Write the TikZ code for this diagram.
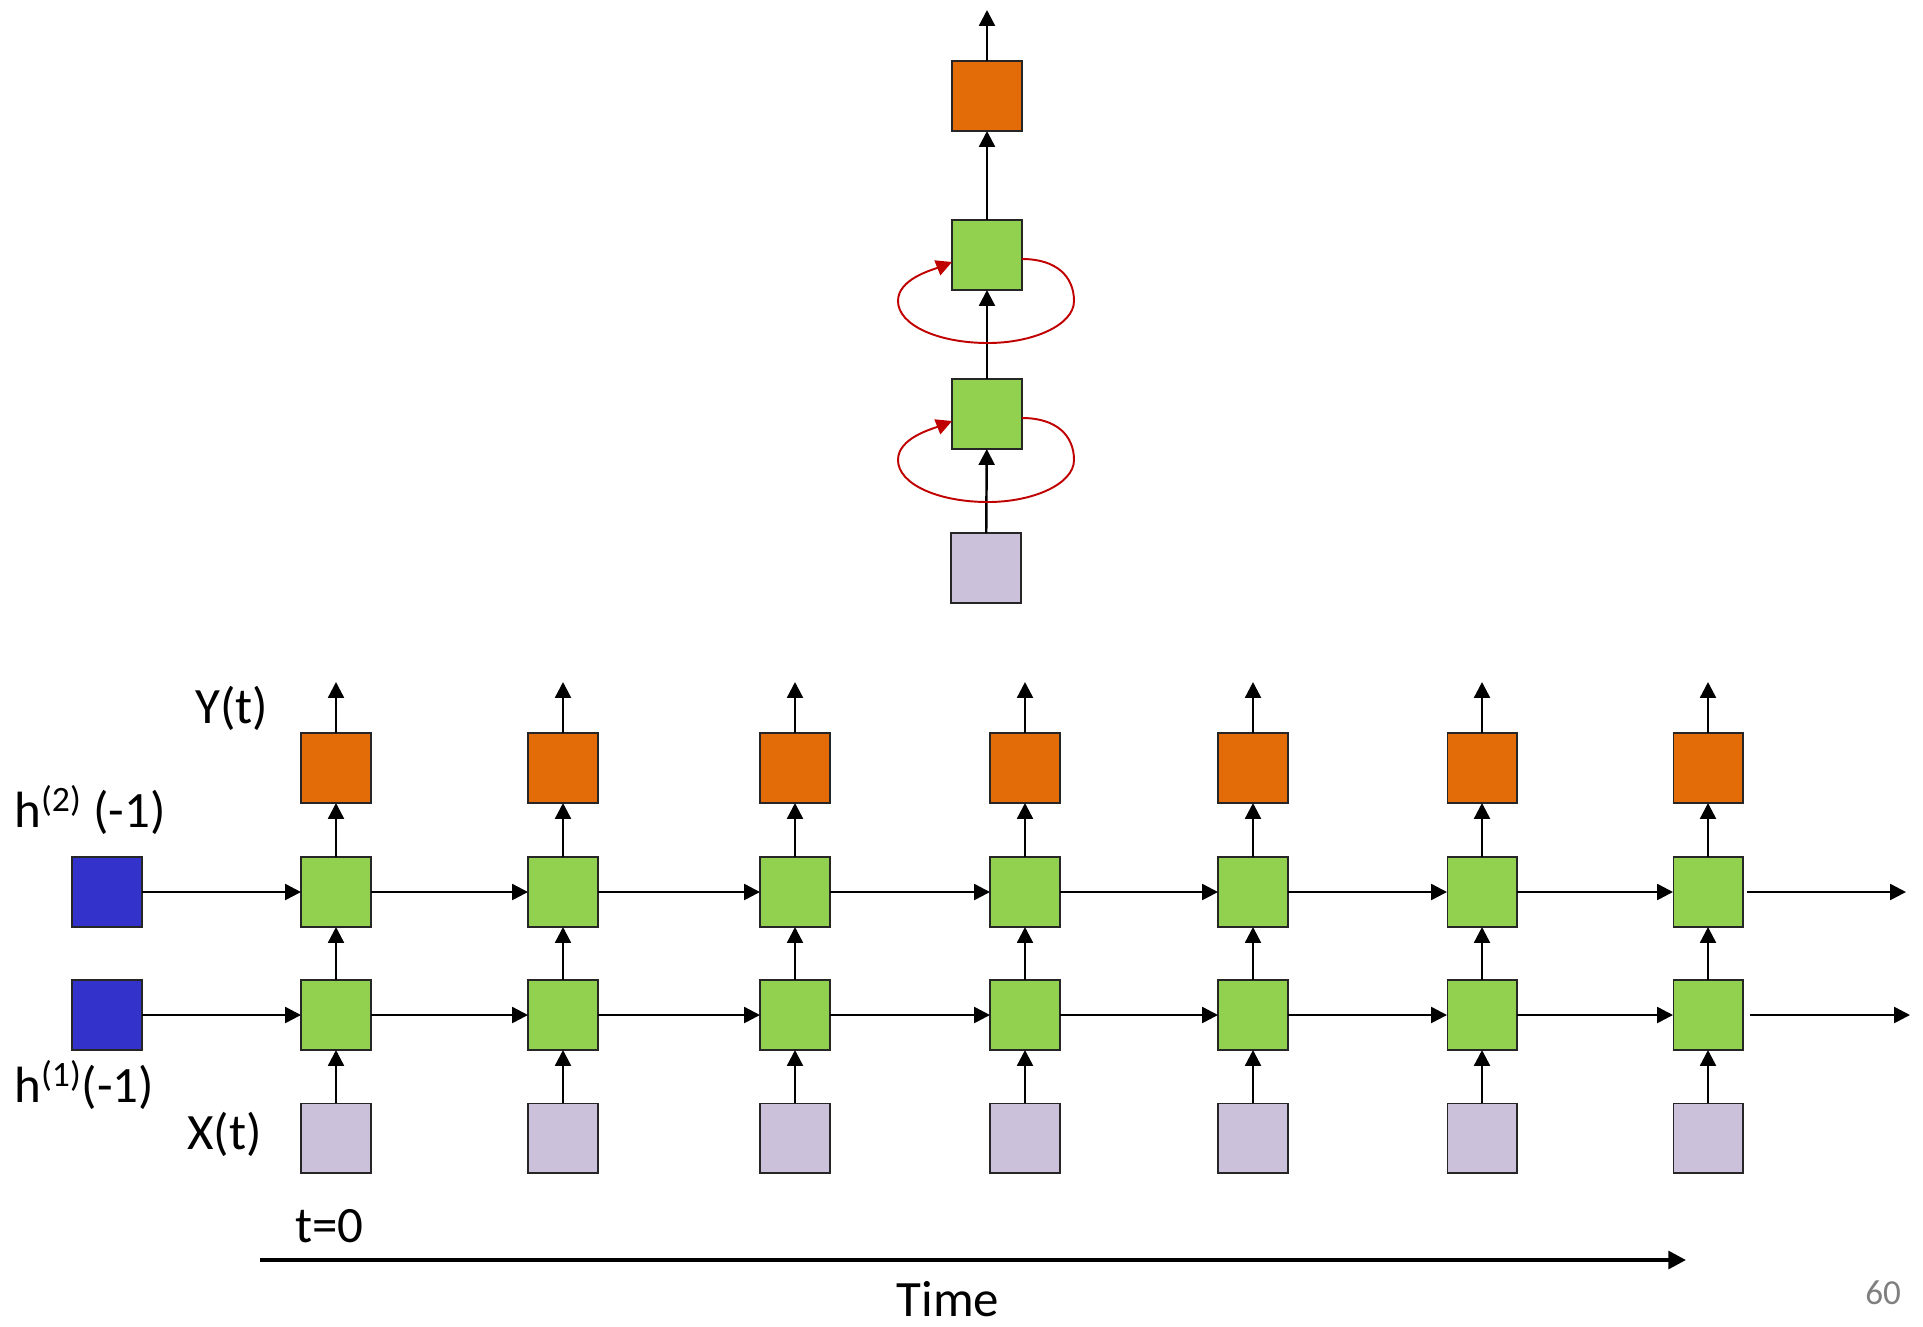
\documentclass[tikz,border=0pt]{standalone}
\usepackage{fontspec}
\setmainfont{Carlito}
\usetikzlibrary{arrows.meta,calc}
\definecolor{cellgreen}{HTML}{92D050}
\definecolor{outorange}{HTML}{E36C09}
\definecolor{inlilac}{HTML}{CCC1DA}
\definecolor{initblue}{HTML}{3333CC}
\definecolor{loopred}{HTML}{C00000}
\begin{document}
\begin{tikzpicture}[x = 0.02cm, y = -0.02cm,
		box/.style = {draw = black!85, line width = 0.6pt, minimum size = 1.4cm, inner sep = 0, outer sep = 0},
		hid/.style = {box, fill = cellgreen},
		outp/.style = {box, fill = outorange},
		inp/.style = {box, fill = inlilac},
		init/.style = {box, fill = initblue},
		arr/.style = {line width = 1.4pt, -{Triangle[length = 9pt, width = 9pt]}},
		rec/.style = {loopred, line width = 1.1pt, -{Triangle[length = 9pt, width = 9pt]}},
		lbl/.style = {anchor = base west, inner sep = 0, font = \fontsize{29}{31}\selectfont}]
		\useasboundingbox (0,0) rectangle (1923,1326);
		% folded network
		\node[outp] (yT) at (987,96) {};
		\node[hid] (hT2) at (987,255) {};
		\node[hid] (hT1) at (987,414) {};
		\node[inp] (xT) at (986,568) {};
		\coordinate (yTend) at (987,10);
		\draw [arr] (xT) -- (hT1);
		\draw [arr] (hT1) -- (hT2);
		\draw [arr] (hT2) -- (yT);
		\draw [arr] (yT) -- (yTend);
		\foreach \n in {hT1, hT2} {
			\draw [rec] ($(\n.east)+(0,4)$) .. controls +(35,0) and +(0,-24) .. ++(52,42)
				.. controls +(0,24) and +(45,0) .. ++(-86,42)
				.. controls +(-50,0) and +(0,24) .. ++(-90,-42)
				.. controls +(0,-22) and +(-20,8) .. ($(\n.west)+(0,7)$);
		}
		% unrolled in time
		\node[init] (h20) at (107,892) {};
		\node[init] (h10) at (107,1015) {};
		\foreach \x [count = \i] in {336,563,795,1025,1253,1482,1708} {
			\node[outp] (y\i) at (\x,768) {};
			\node[hid] (h2\i) at (\x,892) {};
			\node[hid] (h1\i) at (\x,1015) {};
			\node[inp] (x\i) at (\x,1138) {};
			\coordinate (yend\i) at (\x,682);
			\draw [arr] (x\i) -- (h1\i);
			\draw [arr] (h1\i) -- (h2\i);
			\draw [arr] (h2\i) -- (y\i);
			\draw [arr] (y\i) -- (yend\i);
		}
		\foreach \i in {1,...,7} {
			\pgfmathtruncatemacro\j{\i-1}
			\draw [arr] (h2\j) -- (h2\i);
			\draw [arr] (h1\j) -- (h1\i);
		}
		\coordinate (h2end) at (1906,892);
		\coordinate (h1end) at (1910,1015);
		\draw [arr] ([xshift = 2pt]h27.east) -- (h2end);
		\draw [arr] ([xshift = 4pt]h17.east) -- (h1end);
		% labels
		\node[lbl] (ylab) at (195,723) {Y(t)};
		\node[lbl] (h2lab) at (14,827) {h\textsuperscript{(2)} (-1)};
		\node[lbl] (h1lab) at (14,1102) {h\textsuperscript{(1)}(-1)};
		\node[lbl] (xlab) at (187,1149) {X(t)};
		\node[lbl] (t0) at (295,1242) {t=0};
		% time axis
		\coordinate (tstart) at (260,1260);
		\coordinate (tend) at (1686,1260);
		\draw [line width = 2.2pt, -{Triangle[length = 10pt, width = 10pt]}] (tstart) -- (tend);
		\node[lbl, anchor = base] (timelab) at (948,1316) {Time};
		\node[lbl, font = \fontsize{20}{22}\selectfont, text = gray] (pagenum) at (1865,1304) {60};
\end{tikzpicture}
\end{document}
